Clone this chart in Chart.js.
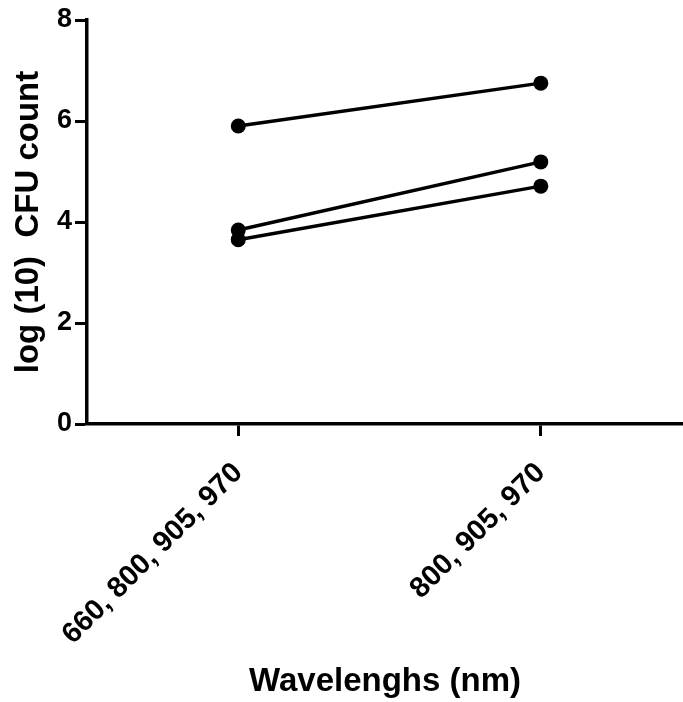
<!DOCTYPE html>
<html>
<head>
<meta charset="utf-8">
<script src="https://cdn.jsdelivr.net/npm/chart.js@4.4.1/dist/chart.umd.min.js"></script>
<style>
  html, body { margin: 0; padding: 0; background: #fff; overflow: hidden; }
  #contenedor { width: 683px; height: 702px; }
</style>
</head>
<body>
<div id="contenedor"><canvas id="myChart"></canvas></div>
<script>
// Datos
const categorias = ["660, 800, 905, 970", "800, 905, 970"];
const serie1 = [5.9, 6.75];
const serie2 = [3.84, 5.19];
const serie3 = [3.65, 4.71];
const ticksY = [0, 2, 4, 6, 8];

const fuente = "'Liberation Sans', Arial, sans-serif";

function armaSerie(valores) {
  return {
    data: valores.map(function (v, i) { return { x: i, y: v }; }),
    borderColor: "#000",
    backgroundColor: "#000",
    borderWidth: 3.5,
    pointRadius: 7.5,
    pointHoverRadius: 7.5,
    pointBackgroundColor: "#000",
    pointBorderWidth: 0,
    tension: 0,
  };
}

function cargarGrafico() {
  const ctx = document.getElementById("myChart").getContext("2d");

  const data = {
    datasets: [armaSerie(serie1), armaSerie(serie2), armaSerie(serie3)],
  };

  const config = {
    type: "line",
    data: data,
    options: {
      responsive: true,
      maintainAspectRatio: false,
      animation: false,
      layout: { autoPadding: false, padding: { top: 20, right: 0, left: 0, bottom: 0 } },
      plugins: {
        legend: { display: false },
        tooltip: { enabled: false },
      },
      scales: {
        x: {
          type: "linear",
          min: -0.5,
          max: 1.47,
          afterBuildTicks: function (scale) {
            scale.ticks = categorias.map(function (c, i) { return { value: i }; });
          },
          afterFit: function (scale) {
            scale.height = 278;
          },
          border: { display: true, color: "#000", width: 3.5 },
          grid: {
            drawOnChartArea: false,
            drawTicks: true,
            tickLength: 12,
            tickWidth: 3,
            tickColor: "#000",
          },
          ticks: {
            color: "#000",
            font: { family: fuente, size: 29, weight: "bold" },
            minRotation: 45,
            maxRotation: 45,
            padding: 20,
            callback: function (value) {
              return categorias[value];
            },
          },
          title: {
            display: true,
            text: "Wavelenghs (nm)",
            color: "#000",
            font: { family: fuente, size: 33, weight: "bold" },
            padding: { top: 0, bottom: 0 },
          },
        },
        y: {
          min: 0,
          max: 8,
          afterBuildTicks: function (scale) {
            scale.ticks = ticksY.map(function (v) { return { value: v }; });
          },
          afterFit: function (scale) {
            scale.width = 87;
          },
          border: { display: true, color: "#000", width: 3.5 },
          grid: {
            drawOnChartArea: false,
            drawTicks: true,
            tickLength: 12,
            tickWidth: 3,
            tickColor: "#000",
          },
          ticks: {
            color: "#000",
            font: { family: fuente, size: 27, weight: "bold" },
            padding: 3,
          },
          title: {
            display: true,
            text: "log (10)  CFU count",
            color: "#000",
            font: { family: fuente, size: 33, weight: "bold" },
            padding: { top: 9, bottom: 0 },
          },
        },
      },
    },
  };

  // Crear el grafico
  const myChart = new Chart(ctx, config);
}

cargarGrafico();
</script>
</body>
</html>
